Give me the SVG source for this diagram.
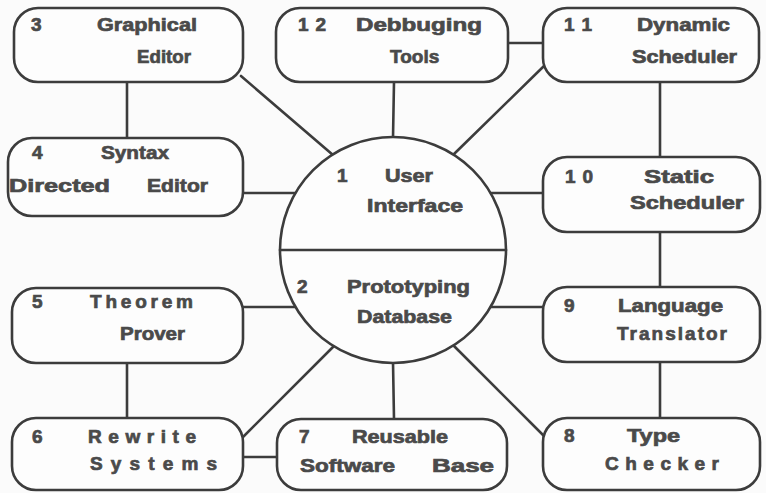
<svg xmlns="http://www.w3.org/2000/svg" width="766" height="493" viewBox="0 0 766 493">
<style>
.bg{fill:#fbfbfb}
.box{fill:#fdfdfd;stroke:#3c3c3c;stroke-width:2.6}
.ln{stroke:#3c3c3c;stroke-width:2.6;fill:none;stroke-linecap:round}
text{font-family:"Liberation Sans",Arial,sans-serif;font-weight:bold;font-size:19px;fill:#4a4a4a;stroke:#4a4a4a;stroke-width:0.7}
</style>
<rect class="bg" x="0" y="0" width="766" height="493"/>
<g id="connectors">
<line class="ln" x1="127" y1="82" x2="127" y2="138"/>
<line class="ln" x1="241" y1="76" x2="333" y2="155"/>
<line class="ln" x1="394" y1="82" x2="393" y2="138"/>
<line class="ln" x1="508" y1="43" x2="543" y2="43"/>
<line class="ln" x1="545" y1="65" x2="453" y2="155"/>
<line class="ln" x1="660" y1="82" x2="660" y2="157"/>
<line class="ln" x1="243" y1="193" x2="296" y2="193"/>
<line class="ln" x1="543" y1="193" x2="490" y2="193"/>
<line class="ln" x1="243" y1="307" x2="296" y2="307"/>
<line class="ln" x1="543" y1="307" x2="490" y2="307"/>
<line class="ln" x1="660" y1="232" x2="660" y2="287"/>
<line class="ln" x1="127" y1="363" x2="127" y2="418"/>
<line class="ln" x1="243" y1="437" x2="335" y2="345"/>
<line class="ln" x1="243" y1="457" x2="277" y2="457"/>
<line class="ln" x1="394" y1="419" x2="393" y2="362"/>
<line class="ln" x1="545" y1="437" x2="453" y2="345"/>
<line class="ln" x1="660" y1="362" x2="660" y2="418"/>
</g>
<g id="n1">
<circle class="box" cx="393" cy="250" r="113"/>
<line class="ln" x1="280" y1="250" x2="506" y2="250"/>
<text x="337" y="182">1</text>
<text x="385" y="182" textLength="48" lengthAdjust="spacingAndGlyphs">User</text>
<text x="367" y="212" textLength="96" lengthAdjust="spacingAndGlyphs">Interface</text>
</g>
<g id="n2">
<text x="297" y="293">2</text>
<text x="347" y="293" textLength="123" lengthAdjust="spacingAndGlyphs">Prototyping</text>
<text x="357" y="323" textLength="95" lengthAdjust="spacingAndGlyphs">Database</text>
</g>
<g id="n3">
<rect class="box" x="14" y="8" width="229" height="74" rx="24"/>
<text x="31" y="31">3</text>
<text x="97" y="31" textLength="100" lengthAdjust="spacingAndGlyphs">Graphical</text>
<text x="137" y="63" textLength="54" lengthAdjust="spacingAndGlyphs">Editor</text>
</g>
<g id="n12">
<rect class="box" x="276" y="8" width="232" height="74" rx="24"/>
<text x="298" y="31" textLength="28" lengthAdjust="spacing">1 2</text>
<text x="356" y="31" textLength="126" lengthAdjust="spacingAndGlyphs">Debbuging</text>
<text x="390" y="63">Tools</text>
</g>
<g id="n11">
<rect class="box" x="543" y="8" width="216" height="74" rx="24"/>
<text x="564" y="31" textLength="28" lengthAdjust="spacing">1 1</text>
<text x="637" y="31" textLength="93" lengthAdjust="spacingAndGlyphs">Dynamic</text>
<text x="632" y="63" textLength="105" lengthAdjust="spacingAndGlyphs">Scheduler</text>
</g>
<g id="n4">
<rect class="box" x="8" y="138" width="235" height="78" rx="24"/>
<text x="32" y="159">4</text>
<text x="101" y="159" textLength="68" lengthAdjust="spacingAndGlyphs">Syntax</text>
<text x="9" y="192" textLength="101" lengthAdjust="spacingAndGlyphs">Directed</text>
<text x="147" y="192" textLength="61" lengthAdjust="spacingAndGlyphs">Editor</text>
</g>
<g id="n10">
<rect class="box" x="543" y="157" width="217" height="75" rx="24"/>
<text x="565" y="183" textLength="28" lengthAdjust="spacing">1 0</text>
<text x="644" y="183" textLength="70" lengthAdjust="spacingAndGlyphs">Static</text>
<text x="630" y="209" textLength="114" lengthAdjust="spacingAndGlyphs">Scheduler</text>
</g>
<g id="n5">
<rect class="box" x="12" y="288" width="231" height="75" rx="24"/>
<text x="32" y="308">5</text>
<text x="90" y="308" textLength="103" lengthAdjust="spacing">Theorem</text>
<text x="120" y="340" textLength="65" lengthAdjust="spacingAndGlyphs">Prover</text>
</g>
<g id="n9">
<rect class="box" x="543" y="287" width="217" height="75" rx="24"/>
<text x="564" y="312">9</text>
<text x="618" y="312" textLength="105" lengthAdjust="spacingAndGlyphs">Language</text>
<text x="617" y="340" textLength="110" lengthAdjust="spacing">Translator</text>
</g>
<g id="n6">
<rect class="box" x="12" y="418" width="231" height="72" rx="24"/>
<text x="32" y="443">6</text>
<text x="88" y="443" textLength="108" lengthAdjust="spacing">Rewrite</text>
<text x="90" y="470" textLength="127" lengthAdjust="spacing">Systems</text>
</g>
<g id="n7">
<rect class="box" x="277" y="419" width="230" height="71" rx="24"/>
<text x="299" y="443">7</text>
<text x="352" y="443" textLength="96" lengthAdjust="spacingAndGlyphs">Reusable</text>
<text x="300" y="472" textLength="95" lengthAdjust="spacingAndGlyphs">Software</text>
<text x="432" y="472" textLength="62" lengthAdjust="spacingAndGlyphs">Base</text>
</g>
<g id="n8">
<rect class="box" x="543" y="418" width="217" height="72" rx="24"/>
<text x="564" y="442">8</text>
<text x="627" y="442" textLength="53" lengthAdjust="spacingAndGlyphs">Type</text>
<text x="605" y="470" textLength="114" lengthAdjust="spacing">Checker</text>
</g>
</svg>
